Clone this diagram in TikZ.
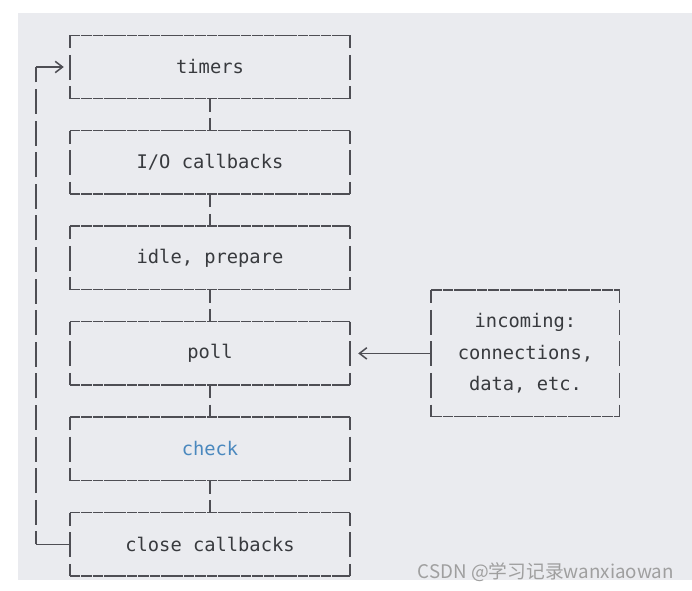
\documentclass[tikz,border=0pt]{standalone}
\usepackage{fontspec}
\setmonofont{DejaVu Sans Mono}
\newfontfamily\cjkfont{Noto Sans CJK SC}
\usetikzlibrary{positioning, arrows.meta}
\definecolor{codebg}{RGB}{234,235,239}
\definecolor{linegray}{RGB}{78,78,84}
\definecolor{textgray}{RGB}{56,58,62}
\definecolor{keyblue}{RGB}{74,136,190}

\begin{document}
\begin{tikzpicture}[node distance = 0.96cm, font=\ttfamily\fontsize{16}{27}\selectfont]

  \tikzstyle{phase}=[minimum width=8.4cm, minimum height=1.89cm, inner sep=0pt, text=textgray]
  \tikzstyle{wire}=[line width=1.3pt, draw=linegray]
  \tikzstyle{hdash}=[wire, dash pattern=on 0.318cm off 0.024cm]
  \tikzstyle{vdash}=[wire, dash pattern=on 0.75cm off 0.198cm, dash phase=0.36cm]
  \tikzstyle{tip}=[-{Straight Barb[length=0.22cm, width=0.34cm]}]

  \useasboundingbox (0,0) rectangle (20.76,-17.73);
  \fill[codebg] (0.54,-0.39) rectangle (20.76,-17.4);

  \node [phase] (timers) at (6.3,-2.01) {timers};
  \node [phase, below = of timers] (io) {I/O callbacks};
  \node [phase, below = of io] (idle) {idle, prepare};
  \node [phase, below = of idle] (poll) {poll};
  \node [phase, text=keyblue, below = of poll] (check) {check};
  \node [phase, below = of check] (close) {close callbacks};

  \node [phase, minimum width=5.64cm, minimum height=3.78cm, align=center,
         right = 2.43cm of poll] (incoming) {incoming:\\connections,\\data, etc.};

  % ascii-like borders
  \foreach \n in {timers, io, idle, poll, check, close, incoming} {
    \draw [hdash] (\n.north west) -- (\n.north east) (\n.south west) -- (\n.south east);
    \draw [vdash] (\n.north west) -- (\n.south west) (\n.north east) -- (\n.south east);
  }

  \foreach \a/\b in {timers/io, io/idle, idle/poll, poll/check, check/close}
    \draw [vdash] (\a) -- (\b);

  \draw [wire, tip, shorten >=0.24cm] (incoming) -- (poll);

  % loop back
  \coordinate [left = 1.02cm of close.west] (lb);
  \coordinate (lt) at (lb |- timers.west);
  \draw [wire] (close) -- (lb);
  \draw [vdash] (lb) -- (lt);
  \draw [wire, tip, shorten >=0.18cm] (lt) -- (timers);

  \node [font=\cjkfont\fontsize{16}{16}\selectfont, text=gray!75, anchor=east] (mark)
    at (20.34,-17.16) {CSDN @学习记录wanxiaowan};

\end{tikzpicture}
\end{document}
